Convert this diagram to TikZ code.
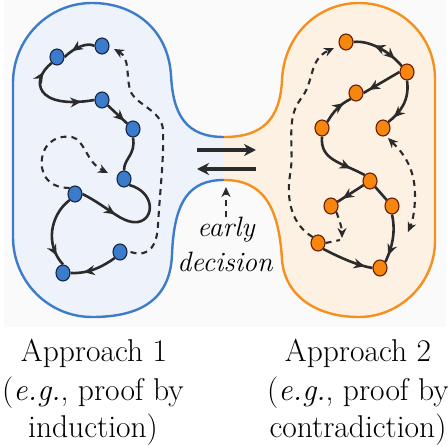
\documentclass[tikz,border=0pt]{standalone}
\usetikzlibrary{arrows.meta,decorations.markings,shapes.geometric}
\definecolor{bline}{HTML}{3D7CC9}
\definecolor{bbg}{HTML}{EDF2FB}
\definecolor{bnfill}{HTML}{3B7BCB}
\definecolor{bnedge}{HTML}{16243F}
\definecolor{oline}{HTML}{F5901E}
\definecolor{obg}{HTML}{FDF1E4}
\definecolor{onfill}{HTML}{F5870F}
\definecolor{onedge}{HTML}{6B1A00}
\definecolor{arrgray}{HTML}{2B2B2B}
\definecolor{pagebg}{HTML}{FAFAFA}
\tikzset{
  bnode/.style={ellipse, draw=bnedge, fill=bnfill, line width=1.1pt, minimum width=14pt, minimum height=16pt, inner sep=0pt},
  onode/.style={ellipse, draw=onedge, fill=onfill, line width=1.1pt, minimum width=14pt, minimum height=16pt, inner sep=0pt},
  conn/.style={draw=arrgray, line width=2.6pt},
  dconn/.style={draw=arrgray, line width=2.1pt, dash pattern=on 6pt off 5pt},
  tipat/.style={postaction={decorate, decoration={markings, mark=at position #1 with {\arrow{Stealth[length=11pt,width=10pt]}}}}},
  tipback/.style={postaction={decorate, decoration={markings, mark=at position #1 with {\arrowreversed{Stealth[length=11pt,width=10pt]}}}}},
  dtip/.style={-{Stealth[length=10pt,width=9pt]}},
  bigarr/.style={draw=arrgray, line width=3.6pt, -{Stealth[length=12pt,width=12pt]}},
  lbl/.style={font=\fontsize{31.5}{38}\selectfont, inner sep=0pt, anchor=base},
  elbl/.style={font=\fontsize{28}{34}\selectfont\itshape, inner sep=0pt, anchor=base},
  blobline/.style={line width=2.4pt},
}
\begin{document}
\begin{tikzpicture}[x=1pt,y=-1pt]
\useasboundingbox (0,0) rectangle (448,446);
\fill[pagebg] (4,0) rectangle (446,327);
% blue blob
\fill[bbg] (224,137) .. controls (186,137) and (173,115) .. (171,75)
  .. controls (168,30) and (135,3) .. (92,3)
  .. controls (48,3) and (13,39) .. (13,83) -- (13,237)
  .. controls (13,281) and (48,317) .. (92,317)
  .. controls (140,317) and (170,300) .. (172,255)
  .. controls (174,200) and (190,180) .. (224,180) -- cycle;
% orange blob
\fill[obg] (224,137) .. controls (262,137) and (280,120) .. (282,80)
  .. controls (284,35) and (318,3) .. (359,3)
  .. controls (400,3) and (435,35) .. (435,79) -- (435,241)
  .. controls (435,283) and (400,317) .. (359,317)
  .. controls (315,317) and (285,295) .. (282,260)
  .. controls (279,205) and (262,180) .. (224,180) -- cycle;
\draw[bline, blobline] (224,137) .. controls (186,137) and (173,115) .. (171,75)
  .. controls (168,30) and (135,3) .. (92,3)
  .. controls (48,3) and (13,39) .. (13,83) -- (13,237)
  .. controls (13,281) and (48,317) .. (92,317)
  .. controls (140,317) and (170,300) .. (172,255)
  .. controls (174,200) and (190,180) .. (224,180);
\draw[oline, blobline] (224,137) .. controls (262,137) and (280,120) .. (282,80)
  .. controls (284,35) and (318,3) .. (359,3)
  .. controls (400,3) and (435,35) .. (435,79) -- (435,241)
  .. controls (435,283) and (400,317) .. (359,317)
  .. controls (315,317) and (285,295) .. (282,260)
  .. controls (279,205) and (262,180) .. (224,180);

% blue nodes
\node[bnode] (B1) at (102,46) {};
\node[bnode] (B2) at (57,57) {};
\node[bnode] (B3) at (102,100) {};
\node[bnode] (B4) at (133,129) {};
\node[bnode] (B5) at (124,179) {};
\node[bnode] (B6) at (75,194) {};
\node[bnode] (B7) at (120,252) {};
\node[bnode] (B8) at (63,273) {};
% blue edges
\path[conn, tipat=0.72] (B1.west) .. controls (88,42) and (75,47) .. (B2.east);
\path[conn, tipback=0.14, tipat=0.85] (B2.south west) .. controls (30,80) and (35,110) .. (B3.west);
\path[conn, tipat=0.85] (B3) -- (B4);
\path[conn] (B4.south) .. controls (136,155) and (124,158) .. (B5.north);
\path[conn, tipat=0.33] (B6.east) .. controls (110,208) and (122,224) .. (138,222) .. controls (155,219) and (155,192) .. (B5.south east);
\path[conn, tipat=0.85] (B6.south west) .. controls (50,215) and (45,245) .. (B8.north);
\path[conn, tipat=0.72] (B7.south west) .. controls (105,265) and (90,274) .. (B8.east);
\draw[dconn, dtip] ([xshift=3pt]B7.east) .. controls (150,258) and (157,245) .. (158,225)
  .. controls (160,190) and (164,160) .. (163,130)
  .. controls (162,110) and (135,105) .. (130,90)
  .. controls (126,75) and (130,58) .. (114,49);
\draw[dconn, dtip] (B6.north west) .. controls (45,188) and (40,170) .. (42,158)
  .. controls (45,140) and (60,135) .. (72,137)
  .. controls (85,140) and (86,162) .. (108,173);

% orange nodes
\node[onode] (O1) at (346,42) {};
\node[onode] (O2) at (407,72) {};
\node[onode] (O3) at (356,93) {};
\node[onode] (O4) at (322,128) {};
\node[onode] (O5) at (383,128) {};
\node[onode] (O6) at (370,181) {};
\node[onode] (O7) at (331,206) {};
\node[onode] (O8) at (392,206) {};
\node[onode] (O9) at (318,243) {};
\node[onode] (O10) at (380,268) {};
% orange edges
\path[conn, tipback=0.38, tipat=0.82] (O1.east) .. controls (370,40) and (390,52) .. (O2.north west);
\path[conn, tipat=0.85] (O2.west) -- (O3.east);
\path[conn, tipat=0.85] (O2.south) .. controls (410,100) and (400,113) .. (O5.north east);
\path[conn, tipat=0.75] (O4.north east) .. controls (333,112) and (340,104) .. (O3.south west);
\path[conn, tipat=0.75] (O4.south) .. controls (320,160) and (340,162) .. (O6.north west);
\path[conn, tipat=0.8] (O6) -- (O7);
\path[conn] (O6) -- (O8);
\path[conn, tipat=0.85] (O8.south) .. controls (396,232) and (392,248) .. (O10.north east);
\path[conn, tipat=0.85] (O9.south east) .. controls (335,255) and (355,265) .. (O10.west);
\draw[dconn, dtip] (O7.south east) .. controls (339,219) and (342,228) .. (342,238);
\draw[dconn] (O9.east) .. controls (330,242) and (336,241) .. (340,240);
\draw[dconn, dtip] (O9.north west) .. controls (292,225) and (286,200) .. (290,175)
  .. controls (295,150) and (285,120) .. (300,100)
  .. controls (315,82) and (308,60) .. (334,48);
\draw[dconn, {Stealth[length=10pt,width=9pt]}-{Stealth[length=10pt,width=9pt]}] (388,138) .. controls (400,150) and (415,165) .. (415,195)
  .. controls (415,215) and (411,225) .. (408,232);

% middle arrows
\coordinate (mL1) at (197,150);
\coordinate (mR1) at (256,150);
\coordinate (mL2) at (197,169);
\coordinate (mR2) at (256,169);
\draw[bigarr] (mL1) -- (mR1);
\draw[bigarr] (mR2) -- (mL2);

% early decision
\node[elbl] (ed1) at (226,237) {early};
\node[elbl] (ed2) at (225,272) {decision};
\coordinate (edtop) at (226,187);
\draw[dconn, dtip] (ed1.north) -- (edtop);

% labels
\node[lbl] (a1) at (94,362) {Approach 1};
\node[lbl] (a2) at (93,401) {(\textit{e.g.}, proof by};
\node[lbl] (a3) at (93,438) {induction)};
\node[lbl] (c1) at (358,362) {Approach 2};
\node[lbl] (c2) at (358,401) {(\textit{e.g.}, proof by};
\node[lbl] (c3) at (358,438) {contradiction)};
\end{tikzpicture}
\end{document}
